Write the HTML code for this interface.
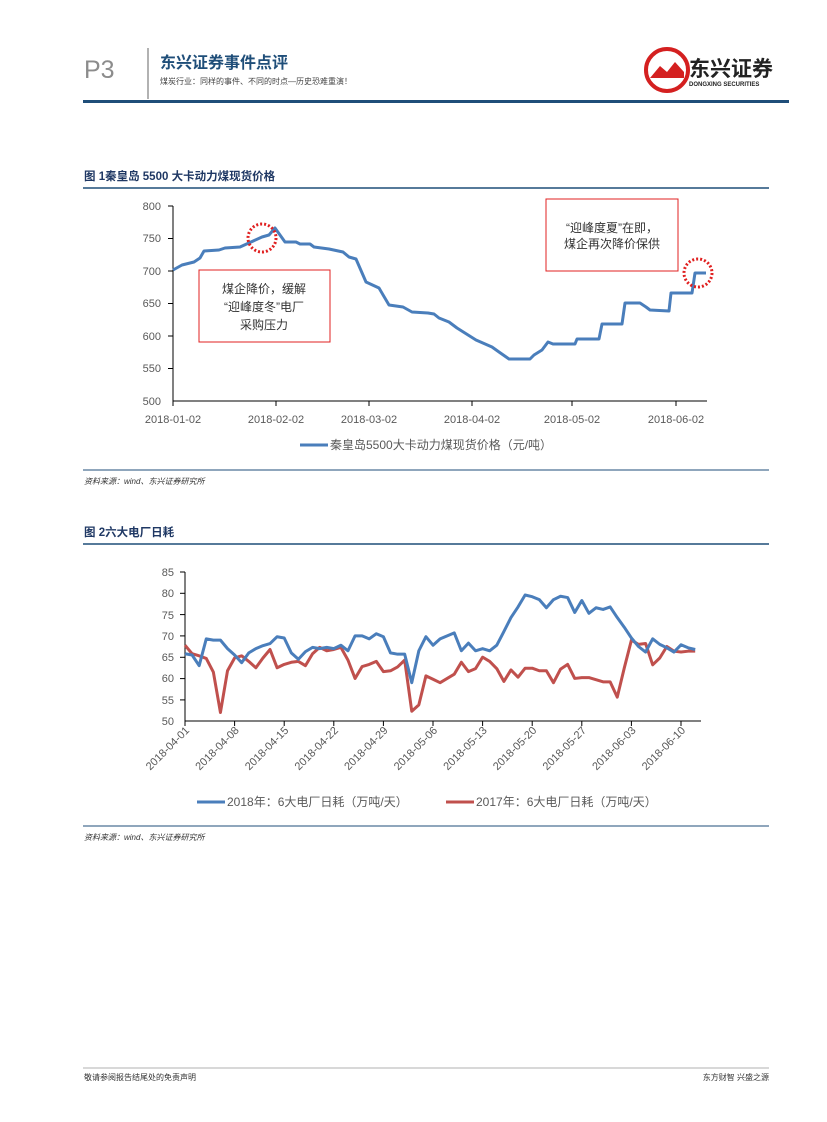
<!DOCTYPE html>
<html><head><meta charset="utf-8"><style>
html,body{margin:0;padding:0;background:#fff}
svg{display:block;font-family:"Liberation Sans","Noto Sans CJK SC",sans-serif}
</style></head><body>
<svg width="827" height="1122" viewBox="0 0 827 1122" xmlns="http://www.w3.org/2000/svg">
<!-- header -->
<text x="84" y="78" font-size="25" fill="#8c8c8c">P3</text>
<line x1="148" y1="48" x2="148" y2="99" stroke="#999" stroke-width="1.5"/>
<text x="160" y="68" font-size="16" font-weight="bold" fill="#1f4e79">东兴证券事件点评</text>
<text x="160" y="84" font-size="8" fill="#444">煤炭行业：同样的事件、不同的时点—历史恐难重演！</text>
<circle cx="667" cy="70" r="21" fill="#fff" stroke="#d42020" stroke-width="4"/>
<path d="M650 78 L660 66 L667 72 L675 62 L684 72 L684 78 Z" fill="#d42020"/>
<text x="689" y="76" font-size="21" font-weight="bold" fill="#222">东兴证券</text>
<text x="689" y="86" font-size="6" font-weight="bold" fill="#222">DONGXING SECURITIES</text>
<rect x="83" y="100" width="706" height="3" fill="#1f4e79"/>

<!-- Figure 1 -->
<text x="84" y="180" font-size="11.5" font-weight="bold" fill="#1f3864">图 1秦皇岛 5500 大卡动力煤现货价格</text>
<line x1="83" y1="188" x2="769" y2="188" stroke="#1f4e79" stroke-width="1.5"/>
<g font-size="11" fill="#595959" text-anchor="end">
<text x="161" y="210">800</text><text x="161" y="242">750</text><text x="161" y="275">700</text>
<text x="161" y="307">650</text><text x="161" y="340">600</text><text x="161" y="372">550</text><text x="161" y="405">500</text>
</g>
<line x1="173" y1="206" x2="173" y2="401" stroke="#000" stroke-width="1"/>
<line x1="173" y1="401" x2="707" y2="401" stroke="#000" stroke-width="1"/>
<g stroke="#000">
<line x1="168" y1="206" x2="173" y2="206"/><line x1="168" y1="238.5" x2="173" y2="238.5"/><line x1="168" y1="271" x2="173" y2="271"/>
<line x1="168" y1="303.5" x2="173" y2="303.5"/><line x1="168" y1="336" x2="173" y2="336"/><line x1="168" y1="368.5" x2="173" y2="368.5"/>
<line x1="173" y1="401" x2="173" y2="406"/><line x1="276" y1="401" x2="276" y2="406"/><line x1="369" y1="401" x2="369" y2="406"/>
<line x1="472" y1="401" x2="472" y2="406"/><line x1="572" y1="401" x2="572" y2="406"/><line x1="676" y1="401" x2="676" y2="406"/>
</g>
<g font-size="11" fill="#595959" text-anchor="middle">
<text x="173" y="423">2018-01-02</text><text x="276" y="423">2018-02-02</text><text x="369" y="423">2018-03-02</text>
<text x="472" y="423">2018-04-02</text><text x="572" y="423">2018-05-02</text><text x="676" y="423">2018-06-02</text>
</g>
<polyline fill="none" stroke="#4a7ebb" stroke-width="3" stroke-linejoin="round" points="173,270 182,265 194,262 200,258 204,251 219,250 225,248 240,247 262,237 269,235 275,228 285,242 296,242 300,244 310,244 314,247 329,249 343,252 349,257 356,259 366,282 379,288 389,305 403,307 412,312 428,313 434,314 439,318 449,322 457,328 476,340 492,347 499,352 509,359 530,359 534,355 542,350 548,342 553,344 575,344 577,339 599,339 602,324 622,324 625,303 640,303 646,307 650,310 669,311 671,293 692,293 695,273 706,273"/>
<rect x="199" y="270" width="131" height="72" fill="none" stroke="#e02020" stroke-width="1"/>
<g font-size="12" fill="#333" text-anchor="middle">
<text x="264" y="293">煤企降价，缓解</text><text x="264" y="311">“迎峰度冬”电厂</text><text x="264" y="329">采购压力</text>
</g>
<rect x="546" y="199" width="132" height="72" fill="none" stroke="#e02020" stroke-width="1"/>
<g font-size="12" fill="#333" text-anchor="middle">
<text x="612" y="232">“迎峰度夏”在即，</text><text x="612" y="248">煤企再次降价保供</text>
</g>
<circle cx="262" cy="238" r="14" fill="none" stroke="#e02020" stroke-width="3" stroke-dasharray="2 2"/>
<circle cx="698" cy="273" r="14" fill="none" stroke="#e02020" stroke-width="3" stroke-dasharray="2 2"/>
<line x1="300" y1="445" x2="328" y2="445" stroke="#4a7ebb" stroke-width="3"/>
<text x="330" y="449" font-size="12" fill="#595959">秦皇岛5500大卡动力煤现货价格（元/吨）</text>
<line x1="83" y1="470" x2="769" y2="470" stroke="#1f4e79" stroke-width="1"/>
<text x="84" y="484" font-size="8" font-style="italic" fill="#333">资料来源：wind、东兴证券研究所</text>

<!-- Figure 2 -->
<text x="84" y="536" font-size="11.5" font-weight="bold" fill="#1f3864">图 2六大电厂日耗</text>
<line x1="83" y1="544" x2="769" y2="544" stroke="#1f4e79" stroke-width="1.5"/>
<g font-size="11" fill="#595959" text-anchor="end">
<text x="174" y="576">85</text><text x="174" y="597">80</text><text x="174" y="619">75</text><text x="174" y="640">70</text>
<text x="174" y="661">65</text><text x="174" y="682">60</text><text x="174" y="704">55</text><text x="174" y="725">50</text>
</g>
<line x1="185" y1="572" x2="185" y2="721" stroke="#000"/>
<line x1="185" y1="721" x2="701" y2="721" stroke="#000"/>
<g stroke="#000">
<line x1="180" y1="572" x2="185" y2="572"/><line x1="180" y1="593.3" x2="185" y2="593.3"/><line x1="180" y1="614.6" x2="185" y2="614.6"/>
<line x1="180" y1="635.9" x2="185" y2="635.9"/><line x1="180" y1="657.3" x2="185" y2="657.3"/><line x1="180" y1="678.6" x2="185" y2="678.6"/>
<line x1="180" y1="699.9" x2="185" y2="699.9"/>
</g>
<g stroke="#000">
<line x1="185" y1="721" x2="185" y2="726"/><line x1="234.6" y1="721" x2="234.6" y2="726"/><line x1="284.2" y1="721" x2="284.2" y2="726"/>
<line x1="333.8" y1="721" x2="333.8" y2="726"/><line x1="383.4" y1="721" x2="383.4" y2="726"/><line x1="433" y1="721" x2="433" y2="726"/>
<line x1="482.6" y1="721" x2="482.6" y2="726"/><line x1="532.2" y1="721" x2="532.2" y2="726"/><line x1="581.8" y1="721" x2="581.8" y2="726"/>
<line x1="631.4" y1="721" x2="631.4" y2="726"/><line x1="681" y1="721" x2="681" y2="726"/>
</g>
<g font-size="11" fill="#595959" text-anchor="end">
<text transform="translate(190,731) rotate(-45)">2018-04-01</text>
<text transform="translate(239.6,731) rotate(-45)">2018-04-08</text>
<text transform="translate(289.2,731) rotate(-45)">2018-04-15</text>
<text transform="translate(338.8,731) rotate(-45)">2018-04-22</text>
<text transform="translate(388.4,731) rotate(-45)">2018-04-29</text>
<text transform="translate(438,731) rotate(-45)">2018-05-06</text>
<text transform="translate(487.6,731) rotate(-45)">2018-05-13</text>
<text transform="translate(537.2,731) rotate(-45)">2018-05-20</text>
<text transform="translate(586.8,731) rotate(-45)">2018-05-27</text>
<text transform="translate(636.4,731) rotate(-45)">2018-06-03</text>
<text transform="translate(686,731) rotate(-45)">2018-06-10</text>
</g>
<g transform="translate(185,721) scale(7.086,-4.257)">
<polyline fill="none" stroke="#c0504d" stroke-width="3" stroke-linejoin="round" vector-effect="non-scaling-stroke" points="0,17.8 1,15.8 2,15.3 3,14.7 4,11.5 5,2 6,11.8 7,14.8 8,15.3 9,14 10,12.5 11,14.8 12,16.8 13,12.5 14,13.3 15,13.8 16,14 17,13 18,15.8 19,17.3 20,16.5 21,16.8 22,17.3 23,14.3 24,10 25,12.8 26,13.3 27,14 28,11.6 29,11.8 30,12.7 31,14.3 32,2.3 33,3.8 34,10.6 35,9.8 36,9 37,10 38,11 39,13.8 40,11.6 41,12.3 42,15 43,14 44,12.3 45,9.3 46,12 47,10.3 48,12.4 49,12.4 50,11.8 51,11.8 52,9 53,12.2 54,13.3 55,10 56,10.2 57,10.2 58,9.7 59,9.2 60,9.2 61,5.6 62,12.5 63,19 64,18 65,18.2 66,13.2 67,14.8 68,17.5 69,16.4 70,16.2 71,16.4 72,16.4"/>
<polyline fill="none" stroke="#4a7ebb" stroke-width="3" stroke-linejoin="round" vector-effect="non-scaling-stroke" points="0,15.8 1,15.5 2,13 3,19.3 4,19 5,19 6,17 7,15.5 8,13.7 9,16 10,17 11,17.7 12,18.2 13,19.8 14,19.5 15,16 16,14.5 17,16.3 18,17.3 19,17 20,17.3 21,17 22,17.8 23,16.5 24,20 25,20 26,19.3 27,20.5 28,19.8 29,16 30,15.7 31,15.7 32,9 33,16.5 34,19.8 35,17.8 36,19.3 37,20 38,20.7 39,16.5 40,18.3 41,16.5 42,17 43,16.5 44,17.8 45,21 46,24.3 47,26.8 48,29.6 49,29.2 50,28.5 51,26.6 52,28.5 53,29.3 54,29 55,25.5 56,28.3 57,25.3 58,26.6 59,26.2 60,26.8 61,24.3 62,22 63,19.5 64,17.5 65,16.2 66,19.3 67,18 68,17.2 69,16.2 70,17.9 71,17.2 72,16.8"/>
</g>
<line x1="197" y1="802" x2="225" y2="802" stroke="#4a7ebb" stroke-width="3"/>
<text x="227" y="806" font-size="12" fill="#595959">2018年：6大电厂日耗（万吨/天）</text>
<line x1="446" y1="802" x2="474" y2="802" stroke="#c0504d" stroke-width="3"/>
<text x="476" y="806" font-size="12" fill="#595959">2017年：6大电厂日耗（万吨/天）</text>
<line x1="83" y1="826" x2="769" y2="826" stroke="#1f4e79" stroke-width="1"/>
<text x="84" y="840" font-size="8" font-style="italic" fill="#333">资料来源：wind、东兴证券研究所</text>

<!-- footer -->
<line x1="83" y1="1068" x2="769" y2="1068" stroke="#999" stroke-width="0.7"/>
<text x="84" y="1080" font-size="8" fill="#333">敬请参阅报告结尾处的免责声明</text>
<text x="769" y="1080" font-size="8" fill="#333" text-anchor="end">东方财智 兴盛之源</text>
</svg>
</body></html>
